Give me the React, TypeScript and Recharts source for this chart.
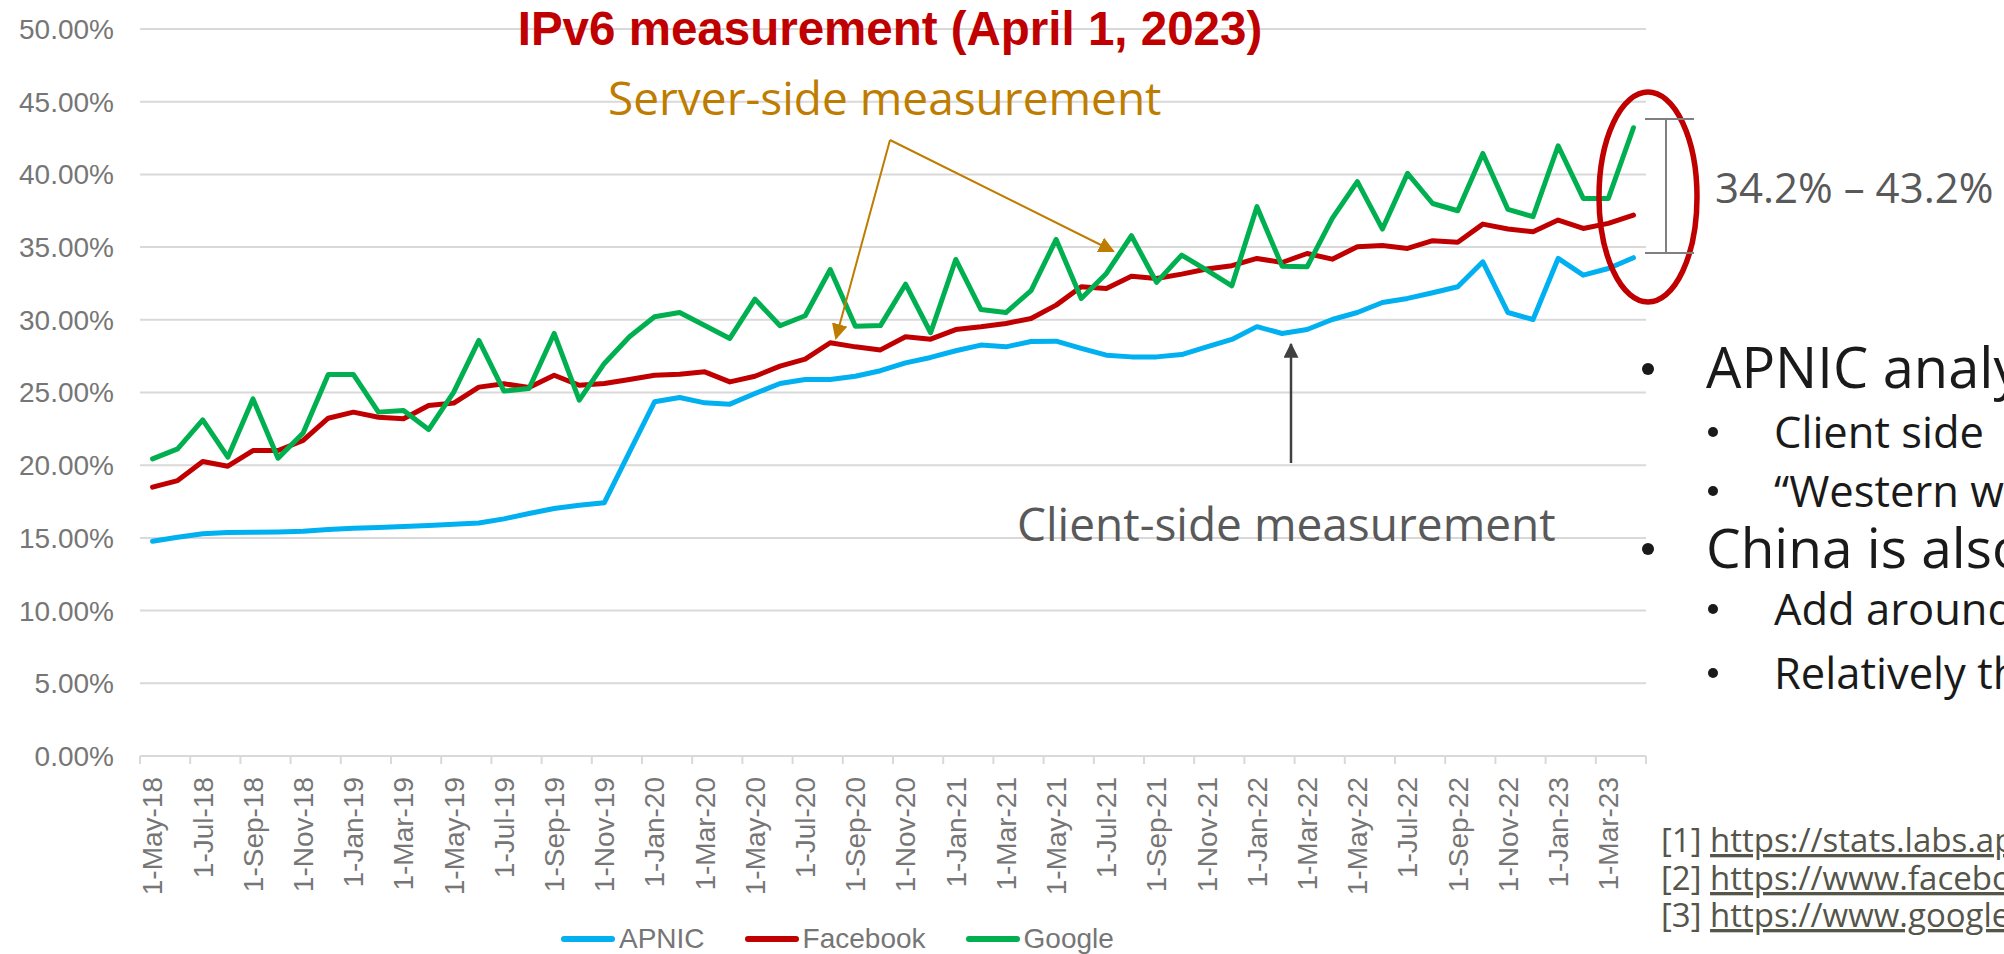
import React from "react";
import {
  LineChart,
  Line,
  XAxis,
  YAxis,
  CartesianGrid,
  Legend,
} from "recharts";

const months = [
  "1-May-18", "1-Jun-18", "1-Jul-18", "1-Aug-18", "1-Sep-18", "1-Oct-18", "1-Nov-18", "1-Dec-18",
  "1-Jan-19", "1-Feb-19", "1-Mar-19", "1-Apr-19", "1-May-19", "1-Jun-19", "1-Jul-19", "1-Aug-19",
  "1-Sep-19", "1-Oct-19", "1-Nov-19", "1-Dec-19", "1-Jan-20", "1-Feb-20", "1-Mar-20", "1-Apr-20",
  "1-May-20", "1-Jun-20", "1-Jul-20", "1-Aug-20", "1-Sep-20", "1-Oct-20", "1-Nov-20", "1-Dec-20",
  "1-Jan-21", "1-Feb-21", "1-Mar-21", "1-Apr-21", "1-May-21", "1-Jun-21", "1-Jul-21", "1-Aug-21",
  "1-Sep-21", "1-Oct-21", "1-Nov-21", "1-Dec-21", "1-Jan-22", "1-Feb-22", "1-Mar-22", "1-Apr-22",
  "1-May-22", "1-Jun-22", "1-Jul-22", "1-Aug-22", "1-Sep-22", "1-Oct-22", "1-Nov-22", "1-Dec-22",
  "1-Jan-23", "1-Feb-23", "1-Mar-23", "1-Apr-23",
];

const apnic = [
  14.77, 15.04, 15.28, 15.37, 15.39, 15.41, 15.46, 15.57, 15.66, 15.71,
  15.78, 15.85, 15.94, 16.03, 16.31, 16.68, 17.02, 17.25, 17.42, 20.9,
  24.36, 24.66, 24.29, 24.2, 24.93, 25.62, 25.89, 25.89, 26.12, 26.5,
  27.04, 27.41, 27.87, 28.26, 28.14, 28.51, 28.53, 28.03, 27.57, 27.45,
  27.45, 27.61, 28.14, 28.65, 29.53, 29.06, 29.33, 30.02, 30.5, 31.19,
  31.47, 31.86, 32.27, 33.99, 30.5, 30.02, 34.22, 33.07, 33.53, 34.27,
];

const facebook = [
  18.49, 18.94, 20.25, 19.93, 21.01, 21.01, 21.7, 23.23, 23.65, 23.3,
  23.19, 24.11, 24.27, 25.37, 25.6, 25.34, 26.19, 25.5, 25.62, 25.9,
  26.19, 26.26, 26.42, 25.73, 26.12, 26.81, 27.29, 28.42, 28.14, 27.93,
  28.83, 28.67, 29.33, 29.52, 29.75, 30.09, 31.01, 32.27, 32.16, 33.0,
  32.84, 33.14, 33.49, 33.72, 34.22, 33.94, 34.56, 34.17, 35.02, 35.11,
  34.91, 35.44, 35.34, 36.58, 36.24, 36.06, 36.86, 36.28, 36.63, 37.2,
];

const google = [
  20.44, 21.12, 23.12, 20.55, 24.56, 20.48, 22.22, 26.24, 26.24, 23.65,
  23.76, 22.45, 25.02, 28.58, 25.1, 25.28, 29.06, 24.47, 27.0, 28.83,
  30.21, 30.5, 29.61, 28.72, 31.42, 29.59, 30.28, 33.46, 29.56, 29.6,
  32.45, 29.11, 34.15, 30.71, 30.5, 32.0, 35.53, 31.47, 33.19, 35.78,
  32.57, 34.45, 33.42, 32.34, 37.78, 33.69, 33.65, 36.97, 39.5, 36.24,
  40.07, 38.0, 37.5, 41.44, 37.59, 37.09, 41.97, 38.35, 38.35, 43.21,
];

const yTicks = [0, 5, 10, 15, 20, 25, 30, 35, 40, 45, 50];

const data = months.map((m, i) => ({
  month: m,
  APNIC: apnic[i],
  Facebook: facebook[i],
  Google: google[i],
}));

const W = 2004;
const H = 954;
const PLOT_LEFT = 140;
const PLOT_RIGHT = 1646;
const HALF_BAND = (PLOT_RIGHT - PLOT_LEFT) / months.length / 2;

const AXIS_FONT = "'Liberation Sans', Arial, sans-serif";
const TEXT_FONT = "'Open Sans', 'Noto Sans', sans-serif";
const AXIS_GRAY = "#767676";
const GRID = "#d9d9d9";

function MonthTick(props: any) {
  const { x, y, payload } = props;
  const left = x - HALF_BAND;
  const isLast = payload.value === "1-Mar-23";
  return (
    <g>
      <line x1={left} y1={y} x2={left} y2={y + 8} stroke={GRID} strokeWidth={2} />
      {isLast && (
        <line
          x1={left + 4 * HALF_BAND}
          y1={y}
          x2={left + 4 * HALF_BAND}
          y2={y + 8}
          stroke={GRID}
          strokeWidth={2}
        />
      )}
      <text
        transform={`translate(${x},${y + 21}) rotate(-90)`}
        textAnchor="end"
        dy="0.35em"
        fill={AXIS_GRAY}
        fontSize={28}
        fontFamily={AXIS_FONT}
      >
        {payload.value}
      </text>
    </g>
  );
}

function LegendContent(props: any) {
  const { payload } = props;
  return (
    <div
      style={{
        display: "flex",
        alignItems: "center",
        gap: 40,
        fontFamily: AXIS_FONT,
        fontSize: 28,
        color: AXIS_GRAY,
        lineHeight: "34px",
        whiteSpace: "nowrap",
      }}
    >
      {(payload || []).map((p: any) => (
        <div key={p.value} style={{ display: "flex", alignItems: "center", gap: 4 }}>
          <span
            style={{
              display: "inline-block",
              width: 54,
              height: 6,
              borderRadius: 3,
              background: p.color,
            }}
          />
          <span>{p.value}</span>
        </div>
      ))}
    </div>
  );
}

function Annotations() {
  const gold = "#BE7C00";
  const dark = "#404040";
  return (
    <svg
      width={W}
      height={H}
      style={{ position: "absolute", left: 0, top: 0, pointerEvents: "none", overflow: "hidden" }}
    >
      <defs>
        <marker id="goldHead" markerWidth="8" markerHeight="8" refX="7" refY="4" orient="auto" markerUnits="strokeWidth">
          <path d="M0,0 L8,4 L0,8 z" fill={gold} />
        </marker>
        <marker id="darkHead" markerWidth="6" markerHeight="6" refX="5.5" refY="3" orient="auto" markerUnits="strokeWidth">
          <path d="M0,0 L6,3 L0,6 z" fill={dark} />
        </marker>
      </defs>

      <text
        x={890}
        y={45}
        textAnchor="middle"
        fill="#C00000"
        fontWeight="bold"
        fontSize={47.5}
        fontFamily={AXIS_FONT}
      >
        IPv6 measurement (April 1, 2023)
      </text>

      <text x={608} y={115} fill={gold} fontSize={46} fontFamily={TEXT_FONT}>
        Server-side measurement
      </text>
      <line x1={890} y1={140} x2={836} y2={338} stroke={gold} strokeWidth={2} markerEnd="url(#goldHead)" />
      <line x1={890} y1={140} x2={1113} y2={251} stroke={gold} strokeWidth={2} markerEnd="url(#goldHead)" />

      <text x={1017} y={541} fill="#595959" fontSize={46} fontFamily={TEXT_FONT}>
        Client-side measurement
      </text>
      <line x1={1291} y1={463} x2={1291} y2={344} stroke={dark} strokeWidth={2.5} markerEnd="url(#darkHead)" />

      <ellipse cx={1648} cy={197} rx={49} ry={105} fill="none" stroke="#C00000" strokeWidth={5.5} />
      <g stroke="#808080" strokeWidth={2}>
        <line x1={1666} y1={119} x2={1666} y2={253} />
        <line x1={1645} y1={119} x2={1694} y2={119} />
        <line x1={1645} y1={253} x2={1694} y2={253} />
      </g>
      <text x={1715} y={203} fill="#595959" fontSize={42} fontFamily={TEXT_FONT}>
        34.2% – 43.2%
      </text>

      <g fill="#1a1a1a" fontFamily={TEXT_FONT}>
        <circle cx={1648} cy={369} r={6} />
        <text x={1706} y={388} fontSize={56}>APNIC analysis</text>
        <circle cx={1713} cy={432} r={5} />
        <text x={1774} y={448} fontSize={43.5}>Client side</text>
        <circle cx={1713} cy={491} r={5} />
        <text x={1774} y={507} fontSize={43.5}>“Western websites”</text>
        <circle cx={1648} cy={549} r={6} />
        <text x={1706} y={568} fontSize={55}>China is also</text>
        <circle cx={1713} cy={609} r={5} />
        <text x={1774} y={625} fontSize={43.5}>Add around</text>
        <circle cx={1713} cy={673} r={5} />
        <text x={1774} y={689} fontSize={43.5}>Relatively the</text>
      </g>

      <g fill="#55554a" fontFamily={TEXT_FONT} fontSize={33}>
        <text x={1661} y={852}>
          [1] <tspan textDecoration="underline">https://stats.labs.apnic.net/ipv6</tspan>
        </text>
        <text x={1661} y={890}>
          [2] <tspan textDecoration="underline">https://www.facebook.com/ipv6/</tspan>
        </text>
        <text x={1661} y={927}>
          [3] <tspan textDecoration="underline">https://www.google.com/intl/en/ipv6/statistics.html</tspan>
        </text>
      </g>
    </svg>
  );
}

export default function App() {
  return (
    <div style={{ position: "relative", width: W, height: H, background: "#fff", overflow: "hidden" }}>
      <style>{"body{margin:0}"}</style>
      <LineChart
        width={W}
        height={H}
        data={data}
        margin={{ top: 29, right: W - PLOT_RIGHT, bottom: 0, left: 0 }}
      >
        <CartesianGrid vertical={false} stroke={GRID} strokeWidth={2} />
        <XAxis
          dataKey="month"
          interval={1}
          height={H - 756}
          padding={{ left: HALF_BAND, right: HALF_BAND }}
          axisLine={false}
          tickLine={false}
          tickSize={0}
          tickMargin={0}
          tick={<MonthTick />}
        />
        <YAxis
          width={PLOT_LEFT}
          domain={[0, 50]}
          ticks={yTicks}
          axisLine={false}
          tickLine={false}
          tickSize={0}
          tickMargin={26}
          tickFormatter={(v: number) => `${v.toFixed(2)}%`}
          tick={{ fill: AXIS_GRAY, fontSize: 28, fontFamily: AXIS_FONT }}
        />
        <Legend
          layout="horizontal"
          verticalAlign="middle"
          align="center"
          content={<LegendContent />}
          wrapperStyle={{ left: 561, top: 922, width: "auto", height: 34 }}
        />
        <Line type="linear" dataKey="APNIC" stroke="#00B0F0" strokeWidth={5} dot={false} strokeLinejoin="round" strokeLinecap="round" isAnimationActive={false} />
        <Line type="linear" dataKey="Facebook" stroke="#C00000" strokeWidth={5} dot={false} strokeLinejoin="round" strokeLinecap="round" isAnimationActive={false} />
        <Line type="linear" dataKey="Google" stroke="#00B050" strokeWidth={5} dot={false} strokeLinejoin="round" strokeLinecap="round" isAnimationActive={false} />
      </LineChart>
      <Annotations />
    </div>
  );
}
